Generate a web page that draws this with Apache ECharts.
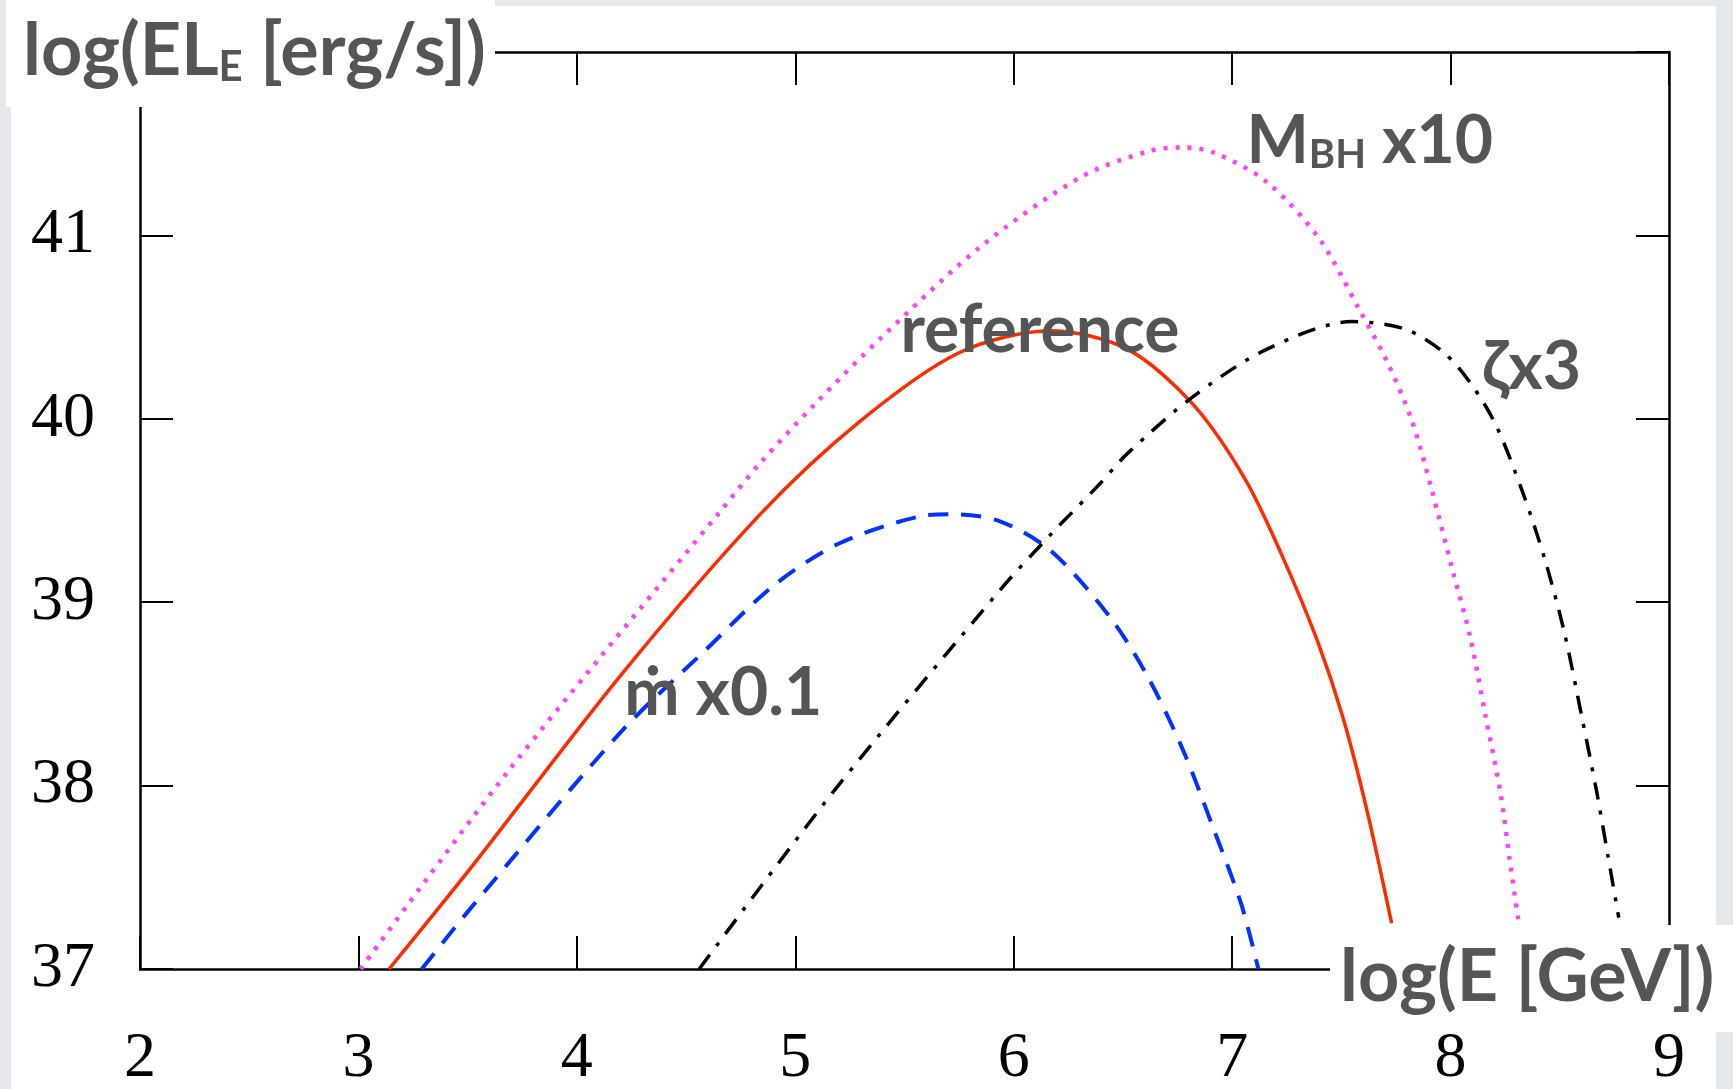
<!DOCTYPE html>
<html lang="en">
<head>
    <meta charset="UTF-8">
    <title>log(EL_E) vs log(E)</title>
    <script src="https://cdn.jsdelivr.net/npm/echarts@6.0.0/dist/echarts.min.js"></script>
    <style>
        html, body {
            margin: 0;
            padding: 0;
            background: #e4e7eb;
        }
        #chart {
            width: 1733px;
            height: 1089px;
        }
    </style>
</head>
<body>
<div id="chart"></div>
<script>
    // axis ticks
    const xTicks = [2, 3, 4, 5, 6, 7, 8, 9];
    const yTicks = [37, 38, 39, 40, 41];

    // [log(E [GeV]), log(EL_E [erg/s])]
    const reference = [
        [3.14, 37.00], [3.52, 37.56], [4.20, 38.60], [4.84, 39.48], [5.30, 39.99], [5.75, 40.36],
        [6.17, 40.48], [6.52, 40.38], [6.82, 40.08], [7.06, 39.67], [7.23, 39.25], [7.39, 38.79],
        [7.51, 38.36], [7.62, 37.85], [7.73, 37.25]
    ];
    const mdotX01 = [
        [3.29, 37.00], [3.52, 37.34], [4.20, 38.29], [4.59, 38.74], [4.90, 39.09], [5.20, 39.32],
        [5.58, 39.47], [5.72, 39.48], [5.94, 39.44], [6.17, 39.28], [6.44, 38.92], [6.62, 38.58],
        [6.78, 38.18], [6.91, 37.78], [7.04, 37.36], [7.12, 37.00]
    ];
    const mbhX10 = [
        [3.01, 37.00], [3.68, 38.07], [4.66, 39.50], [4.84, 39.76], [5.09, 40.08], [5.40, 40.45],
        [5.85, 40.94], [6.31, 41.32], [6.62, 41.46], [6.77, 41.48], [6.92, 41.45], [7.16, 41.29],
        [7.40, 40.98], [7.58, 40.60], [7.71, 40.31], [7.82, 40.00], [7.91, 39.63], [8.01, 39.17],
        [8.09, 38.81], [8.16, 38.38], [8.23, 37.95], [8.27, 37.60], [8.31, 37.27]
    ];
    const zetaX3 = [
        [4.56, 37.00], [5.17, 37.96], [5.94, 39.07], [6.17, 39.37], [6.39, 39.64], [6.52, 39.81],
        [6.82, 40.12], [7.16, 40.38], [7.55, 40.53], [7.79, 40.49], [7.97, 40.36], [8.10, 40.18],
        [8.21, 39.96], [8.33, 39.60], [8.43, 39.24], [8.52, 38.84], [8.60, 38.38], [8.67, 37.96],
        [8.72, 37.62], [8.77, 37.28]
    ];

    const gray = '#555555';
    const sans = 'Lato';
    const serif = '"Liberation Serif", "DejaVu Serif", serif';

    function curveLabel(text, coord, rich) {
        return {
            symbol: 'circle',
            symbolSize: 0,
            silent: true,
            label: {
                show: true,
                position: 'inside',
                formatter: text,
                color: gray,
                fontFamily: sans,
                fontWeight: 'bold',
                fontSize: 66,
                rich: rich || {}
            },
            data: [{coord: coord}]
        };
    }

    function axisCommon(pos, isX, showLabel) {
        return {
            type: 'value',
            position: pos,
            min: isX ? 2 : 37,
            max: isX ? 9 : 42,
            interval: 1,
            splitLine: {show: false},
            axisLine: {show: true, onZero: false, lineStyle: {color: '#000', width: 2.5}},
            axisTick: {show: true, inside: true, length: 33, lineStyle: {color: '#000', width: 2}},
            axisLabel: {
                show: showLabel,
                color: '#000',
                fontFamily: serif,
                fontSize: 64,
                margin: isX ? 58 : 45,
                formatter: v => (isX ? xTicks : yTicks).indexOf(v) >= 0 ? String(v) : ''
            }
        };
    }

    const chart = echarts.init(document.getElementById('chart'));

    const sub = {
        a: {fontSize: 66, lineHeight: 66, verticalAlign: 'bottom', fontFamily: sans, fontWeight: 'bold', color: gray},
        s: {fontSize: 40, lineHeight: 40, verticalAlign: 'bottom', fontFamily: sans, fontWeight: 'bold', color: gray}
    };

    chart.setOption({
        animation: false,
        backgroundColor: '#e4e7eb',
        grid: {
            left: 140,
            right: 64,
            top: 52,
            bottom: 120,
            containLabel: false,
            outerBoundsMode: 'none'
        },
        xAxis: [axisCommon('bottom', true, true), axisCommon('top', true, false)],
        yAxis: [axisCommon('left', false, true), axisCommon('right', false, false)],
        graphic: [
            {
                type: 'rect',
                silent: true,
                z: -100,
                shape: {x: 11, y: 6, width: 1705, height: 1083},
                style: {fill: '#ffffff'}
            },
            // y axis title box
            {
                type: 'rect',
                silent: true,
                z: 100,
                shape: {x: 6, y: 0, width: 489, height: 107},
                style: {fill: '#ffffff'}
            },
            {
                type: 'text',
                silent: true,
                z: 101,
                x: 23,
                y: 52,
                style: {
                    text: '{a|log(EL}{s|E}{a| [erg/s])}',
                    verticalAlign: 'middle',
                    rich: {
                        a: {fontSize: 72, lineHeight: 72, verticalAlign: 'bottom', fontFamily: sans, fontWeight: 'bold', fill: gray},
                        s: {fontSize: 42, lineHeight: 42, verticalAlign: 'bottom', fontFamily: sans, fontWeight: 'bold', fill: gray}
                    }
                }
            },
            // x axis title box
            {
                type: 'rect',
                silent: true,
                z: 100,
                shape: {x: 1330, y: 925, width: 403, height: 107},
                style: {fill: '#ffffff'}
            },
            {
                type: 'text',
                silent: true,
                z: 101,
                x: 1340,
                y: 978,
                style: {
                    text: 'log(E [GeV])',
                    verticalAlign: 'middle',
                    fontSize: 72,
                    fontFamily: sans,
                    fontWeight: 'bold',
                    fill: gray
                }
            }
        ],
        series: [
            {
                name: 'reference',
                type: 'line',
                data: reference,
                showSymbol: false,
                smooth: 0.3,
                lineStyle: {color: '#ff2a00', width: 3.5},
                markPoint: curveLabel('reference', [6.12, 40.48])
            },
            {
                name: 'mdot x0.1',
                type: 'line',
                data: mdotX01,
                showSymbol: false,
                smooth: 0.3,
                lineStyle: {color: '#0033ff', width: 4, type: [20, 13], cap: 'butt'},
                markPoint: curveLabel('ṁ x0.1', [4.67, 38.5])
            },
            {
                name: 'MBH x10',
                type: 'line',
                data: mbhX10,
                showSymbol: false,
                smooth: 0.3,
                lineStyle: {color: '#ff40ff', width: 4.5, type: [4, 8], cap: 'butt'},
                markPoint: curveLabel('{a|M}{s|BH}{a| x10}', [7.63, 41.51], sub)
            },
            {
                name: 'zeta x3',
                type: 'line',
                data: zetaX3,
                showSymbol: false,
                smooth: 0.3,
                lineStyle: {color: '#000000', width: 3.5, type: [18, 11, 4, 11], cap: 'butt'},
                markPoint: curveLabel('ζx3', [8.37, 40.28])
            }
        ]
    });
</script>
</body>
</html>
